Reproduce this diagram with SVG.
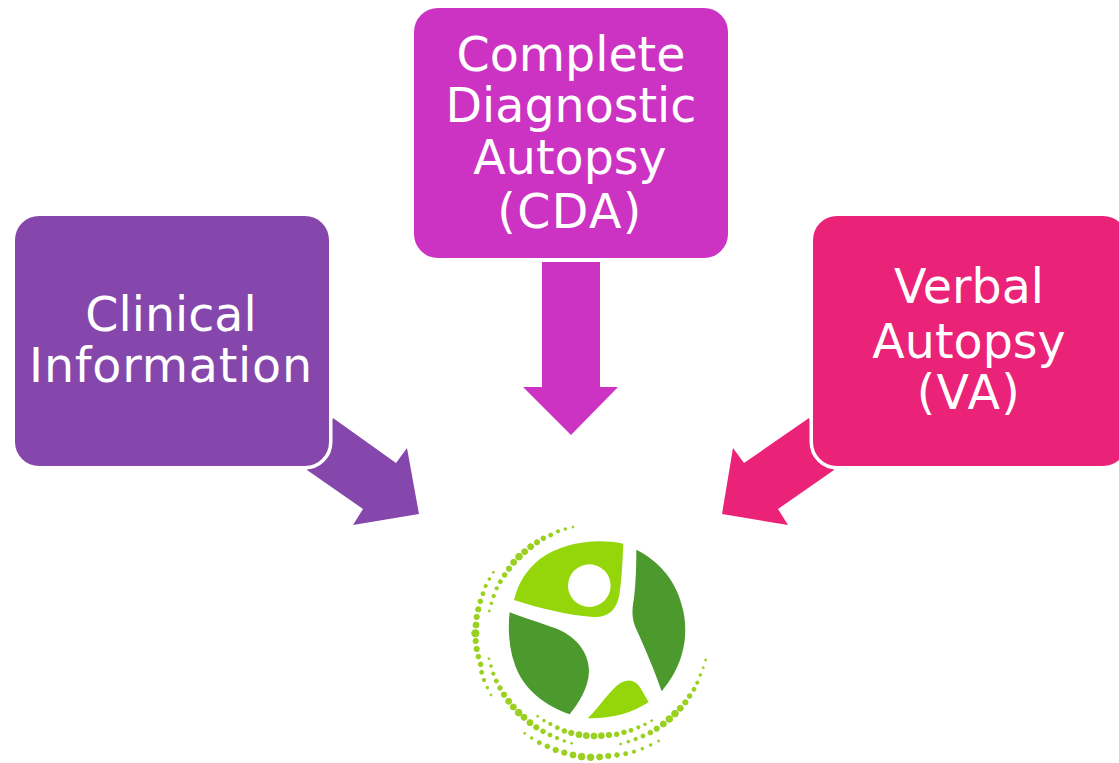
<svg xmlns="http://www.w3.org/2000/svg" width="1119" height="763" viewBox="0 0 1119 763">
<style>
.t{font-family:"DejaVu Sans",Verdana,sans-serif;font-size:47.5px;fill:#fff;text-anchor:middle}
.b{stroke:#fff;stroke-width:7;paint-order:stroke}
.d{fill:#4c9a2e}.l{fill:#94d60a}.o{fill:#9ad020;stroke:#9ad020;stroke-width:3}
</style>
<rect width="1119" height="763" fill="#fff"/>
<g id="connectors">
<path d="M333 418 396 463 407 448 419 514 353 525 363 509 307 470Z" fill="#8547ab"/>
<path d="M542 262H600V387H618L571 435 523 387H542Z" fill="#cc33c2"/>
<path d="M809 418 744 463 733 448 722 514 788 525 778 509 834 470Z" fill="#ea2278"/>
</g>
<g id="clinical">
<rect class="b" x="15" y="216" width="314" height="250" rx="24" fill="#8547ab"/>
<text class="t" x="171" y="331">Clinical</text>
<text class="t" x="171" y="382" letter-spacing=".8">Information</text>
</g>
<g id="cda">
<rect x="414" y="8" width="314" height="250" rx="24" fill="#cc33c2"/>
<text class="t" x="571" y="71">Complete</text>
<text class="t" x="571" y="122">Diagnostic</text>
<text class="t" x="570" y="174">Autopsy</text>
<text class="t" x="570" y="228" letter-spacing="1.4">(CDA)</text>
</g>
<g id="va">
<rect class="b" x="813" y="216" width="314" height="250" rx="24" fill="#ea2278"/>
<text class="t" x="969" y="303">Verbal</text>
<text class="t" x="969" y="358">Autopsy</text>
<text class="t" x="969" y="409" letter-spacing="1.4">(VA)</text>
</g>
<g id="logo" transform="translate(460 515) scale(.3333)">
<path class="l" d="M490 86C400 68 305 85 240 132 198 165 175 205 162 255 240 280 320 300 400 306 445 308 470 285 478 240 486 190 488 130 490 86Z"/>
<circle cx="388" cy="212" r="64" fill="#fff"/>
<path class="d" d="M529 104C600 140 650 200 668 280 690 370 665 460 605 529 585 470 555 400 530 345 515 315 515 285 522 250 528 200 529 150 529 104Z"/>
<path class="d" d="M149 292C200 312 270 332 305 348 360 375 388 425 387 470 385 520 355 565 329 598 250 570 190 520 165 450 147 400 143 345 149 292Z"/>
<path class="l" d="M383 610C420 575 450 525 480 505 510 488 530 498 545 525L566 562C510 597 450 612 383 610Z"/>
<g class="o">
<circle cx="339" cy="36" r="3"/><circle cx="316" cy="42" r="4"/><circle cx="294" cy="49" r="5"/><circle cx="272" cy="60" r="6"/><circle cx="250" cy="70" r="7"/><circle cx="231" cy="82" r="8"/><circle cx="212" cy="95" r="9"/><circle cx="194" cy="110" r="9"/><circle cx="177" cy="125" r="10"/><circle cx="161" cy="142" r="9"/><circle cx="147" cy="161" r="8"/><circle cx="134" cy="180" r="7"/><circle cx="121" cy="200" r="6"/><circle cx="110" cy="220" r="5"/><circle cx="101" cy="243" r="5"/><circle cx="94" cy="265" r="4"/><circle cx="88" cy="288" r="3"/>
<circle cx="100" cy="172" r="3"/><circle cx="88" cy="192" r="4"/><circle cx="77" cy="213" r="5"/><circle cx="69" cy="236" r="6"/><circle cx="61" cy="259" r="7"/><circle cx="55" cy="283" r="8"/><circle cx="50" cy="306" r="8"/><circle cx="48" cy="330" r="9"/><circle cx="46" cy="355" r="11"/><circle cx="47" cy="378" r="8"/><circle cx="50" cy="402" r="8"/><circle cx="55" cy="425" r="7"/><circle cx="62" cy="448" r="7"/><circle cx="65" cy="472" r="6"/><circle cx="72" cy="495" r="5"/><circle cx="82" cy="518" r="4"/><circle cx="93" cy="540" r="3"/>
<circle cx="87" cy="431" r="3"/><circle cx="93" cy="453" r="4"/><circle cx="100" cy="476" r="5"/><circle cx="109" cy="498" r="6"/><circle cx="120" cy="519" r="7"/><circle cx="132" cy="539" r="8"/><circle cx="146" cy="559" r="9"/><circle cx="160" cy="576" r="9"/><circle cx="176" cy="593" r="10"/><circle cx="192" cy="607" r="9"/><circle cx="210" cy="623" r="9"/><circle cx="229" cy="637" r="8"/><circle cx="249" cy="649" r="7"/><circle cx="270" cy="660" r="6"/><circle cx="291" cy="669" r="5"/><circle cx="313" cy="678" r="4"/><circle cx="335" cy="685" r="3"/>
<circle cx="233" cy="604" r="3"/><circle cx="252" cy="617" r="4"/><circle cx="271" cy="627" r="5"/><circle cx="292" cy="638" r="6"/><circle cx="313" cy="648" r="7"/><circle cx="334" cy="654" r="8"/><circle cx="357" cy="659" r="9"/><circle cx="379" cy="662" r="9"/><circle cx="402" cy="663" r="9"/><circle cx="424" cy="662" r="9"/><circle cx="447" cy="660" r="8"/><circle cx="470" cy="658" r="7"/><circle cx="492" cy="652" r="7"/><circle cx="513" cy="646" r="6"/><circle cx="535" cy="637" r="5"/><circle cx="555" cy="628" r="4"/><circle cx="575" cy="617" r="3"/>
<circle cx="194" cy="655" r="3"/><circle cx="215" cy="669" r="4"/><circle cx="238" cy="683" r="6"/><circle cx="262" cy="694" r="7"/><circle cx="287" cy="705" r="8"/><circle cx="313" cy="713" r="8"/><circle cx="339" cy="720" r="9"/><circle cx="365" cy="725" r="10"/><circle cx="392" cy="727" r="10"/><circle cx="419" cy="726" r="9"/><circle cx="445" cy="723" r="8"/><circle cx="471" cy="720" r="7"/><circle cx="497" cy="716" r="6"/><circle cx="522" cy="710" r="5"/><circle cx="547" cy="701" r="4"/><circle cx="572" cy="690" r="4"/><circle cx="596" cy="678" r="3"/>
<circle cx="482" cy="687" r="3"/><circle cx="505" cy="680" r="4"/><circle cx="527" cy="672" r="5"/><circle cx="549" cy="663" r="6"/><circle cx="571" cy="653" r="7"/><circle cx="590" cy="641" r="8"/><circle cx="610" cy="627" r="9"/><circle cx="628" cy="612" r="10"/><circle cx="645" cy="596" r="10"/><circle cx="661" cy="580" r="9"/><circle cx="676" cy="562" r="8"/><circle cx="689" cy="543" r="7"/><circle cx="702" cy="523" r="6"/><circle cx="712" cy="503" r="5"/><circle cx="721" cy="480" r="4"/><circle cx="730" cy="458" r="3"/><circle cx="737" cy="435" r="3"/>
</g>
</g>
</svg>
